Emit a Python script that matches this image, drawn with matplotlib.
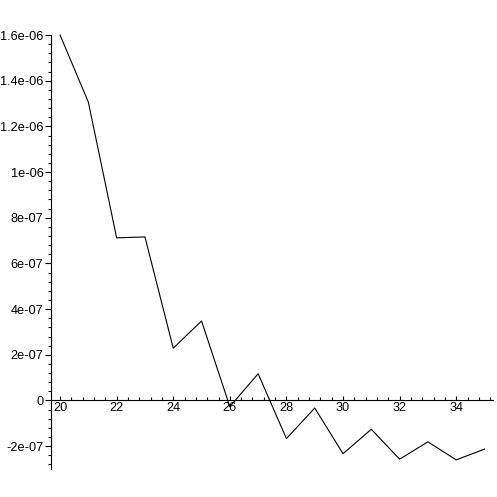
import numpy as np
import matplotlib
matplotlib.use('Agg')
import matplotlib.pyplot as plt
from matplotlib.ticker import MultipleLocator

# values
x_vals = [20, 21, 22, 23, 24, 25, 26, 27, 28, 29, 30, 31, 32, 33, 34, 35]
y_vals = [1.6e-06, 1.306e-06, 7.12e-07, 7.16e-07, 2.29e-07, 3.48e-07, -2.7e-08,
          1.17e-07, -1.67e-07, -3.3e-08, -2.33e-07, -1.26e-07, -2.57e-07,
          -1.81e-07, -2.6e-07, -2.13e-07]
x_ticks = [20, 22, 24, 26, 28, 30, 32, 34]
y_ticks = [-2e-07, 0, 2e-07, 4e-07, 6e-07, 8e-07, 1e-06, 1.2e-06, 1.4e-06, 1.6e-06]
y_labels = ['-2e-07', '0', '2e-07', '4e-07', '6e-07', '8e-07', '1e-06', '1.2e-06', '1.4e-06', '1.6e-06']

plt.rcParams['font.family'] = ['Liberation Sans', 'DejaVu Sans']

W = H = 497
fig = plt.figure(figsize=(W / 100, H / 100), dpi=100)
# axes box in pixels: left 51, right 493, top 35, bottom 469
ax = fig.add_axes([51 / W, (H - 469) / H, (493 - 51) / W, (469 - 35) / H])

ax.plot(x_vals, y_vals, color='black', linewidth=0.8, clip_on=False)

ax.set_xlim(19.68, 35.3)
ax.set_ylim(-3e-07, 1.6e-06)

for s in ['top', 'right']:
    ax.spines[s].set_visible(False)
ax.spines['bottom'].set_position(('data', 0))
ax.spines['left'].set_linewidth(0.8)
ax.spines['bottom'].set_linewidth(0.8)

ax.set_xticks(x_ticks)
ax.set_xticklabels([str(t) for t in x_ticks])
ax.xaxis.set_minor_locator(MultipleLocator(0.4))
ax.set_yticks(y_ticks)
ax.set_yticklabels(y_labels)
ax.yaxis.set_minor_locator(MultipleLocator(0.4e-07))

ax.tick_params(axis='x', which='major', direction='in', length=3, width=0.8,
               labelsize=9.2, pad=1)
ax.tick_params(axis='x', which='minor', direction='in', length=2, width=0.8)
ax.tick_params(axis='y', which='major', direction='out', length=4, width=0.8,
               labelsize=9.2, pad=1.5)
ax.tick_params(axis='y', which='minor', direction='out', length=2, width=0.8)

fig.savefig('out.png', dpi=100)
